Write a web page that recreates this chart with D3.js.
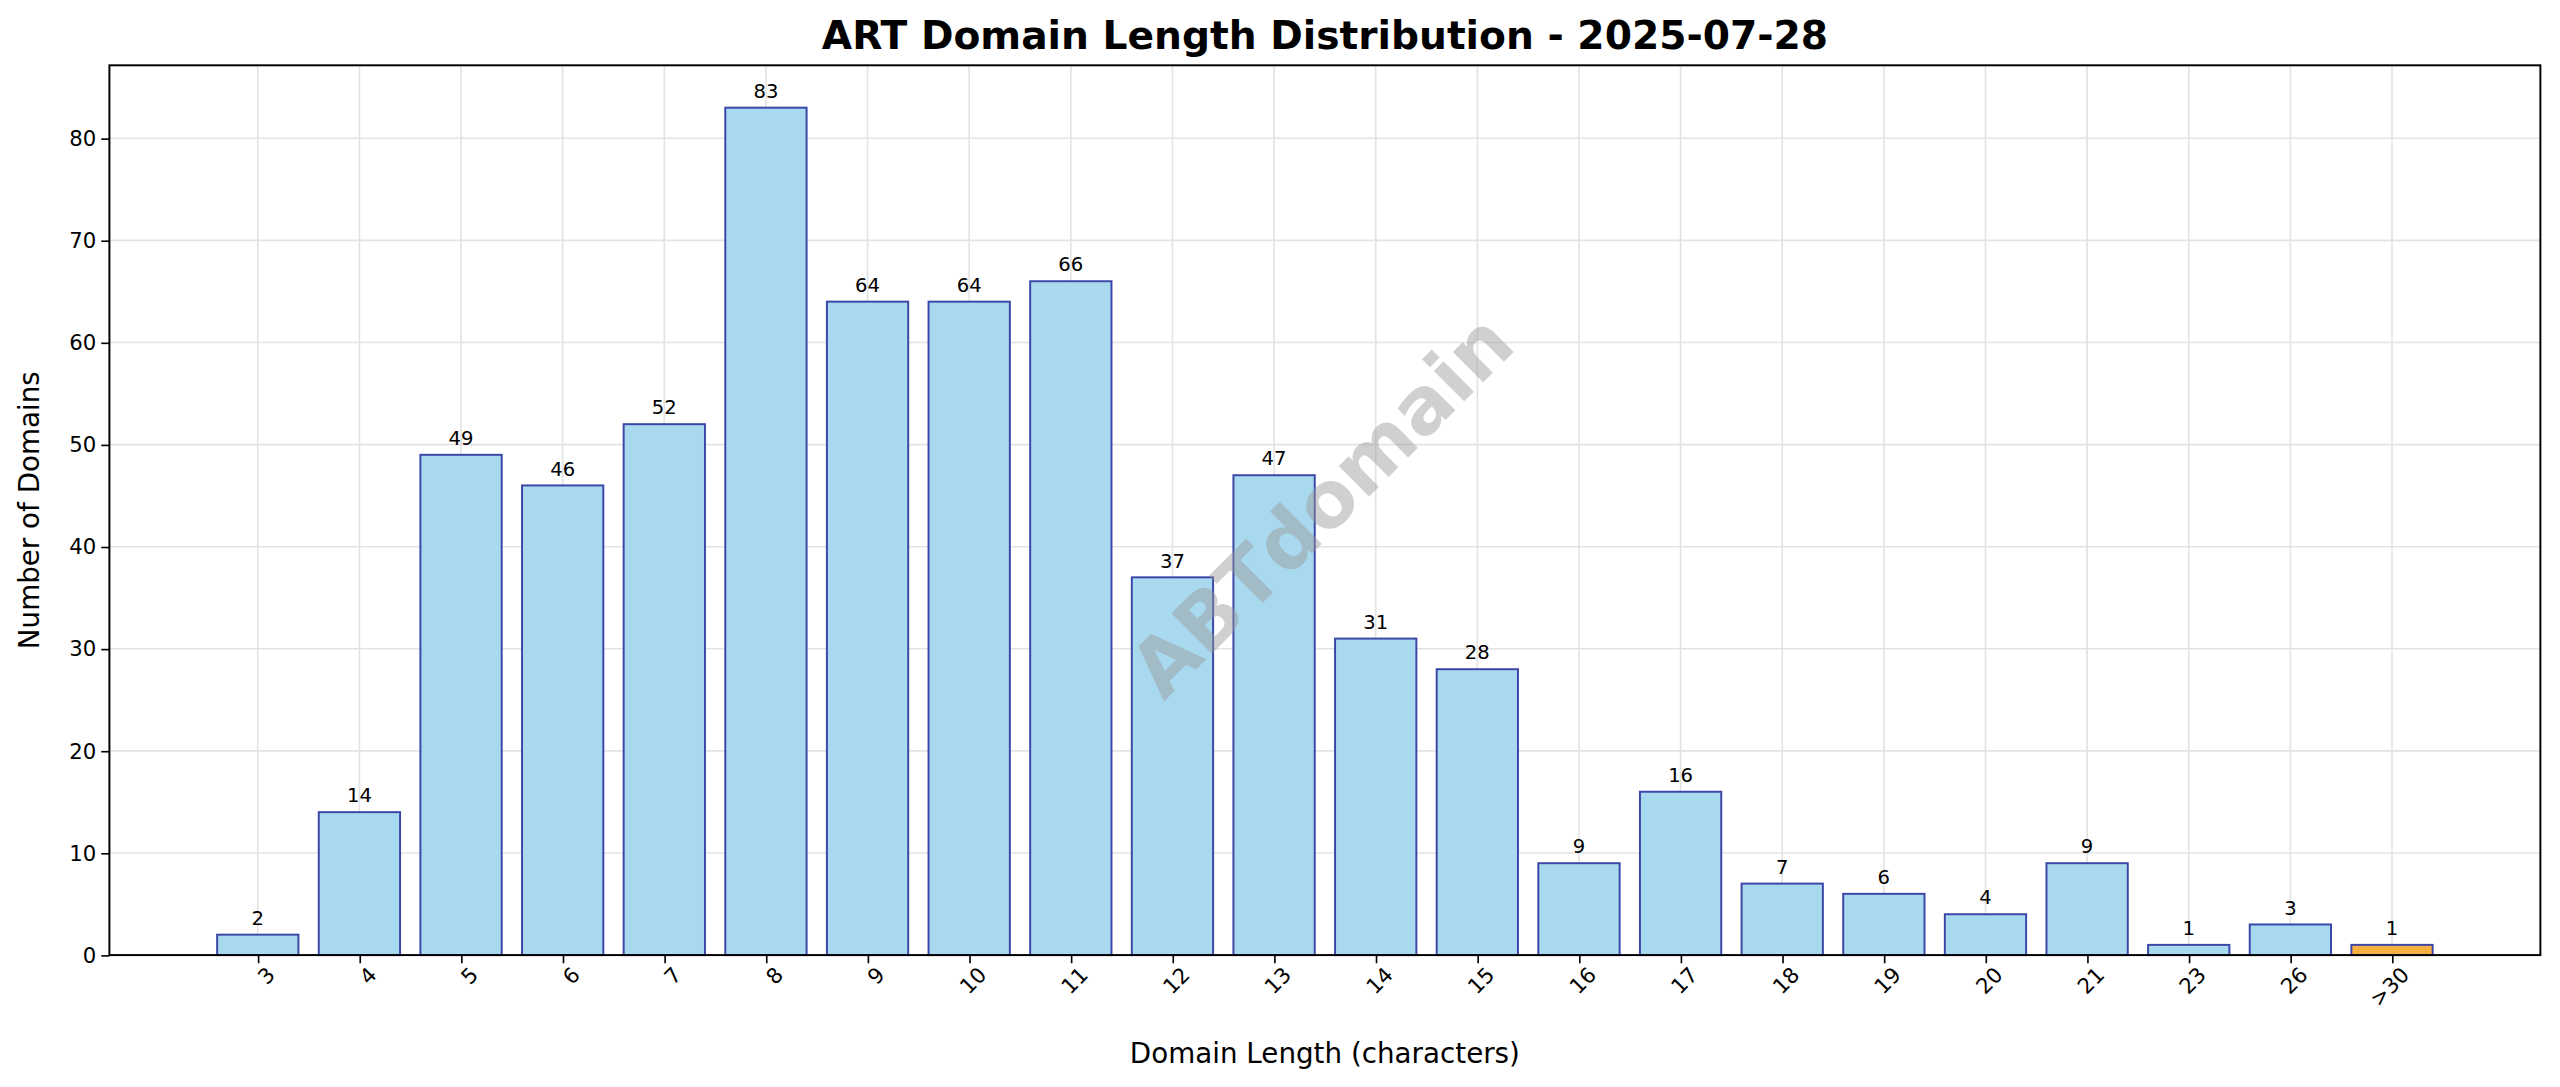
<!DOCTYPE html>
<html>
<head>
<meta charset="utf-8">
<script src="https://cdn.jsdelivr.net/npm/d3@7"></script>
<style>
body { margin: 0; background: #fff; overflow: hidden; }
text { font-family: "DejaVu Sans", sans-serif; }
</style>
</head>
<body>
<svg id="chart" width="2560" height="1087" viewBox="0 0 1568 665.8"></svg>
<script>
// chart data
var categories = ["3","4","5","6","7","8","9","10","11","12","13","14","15","16","17","18","19","20","21","23","26",">30"];
var counts = [2,14,49,46,52,83,64,64,66,37,47,31,28,9,16,7,6,4,9,1,3,1];
var yTicks = [0,10,20,30,40,50,60,70,80];

(function() {
var svg = d3.select("#chart"),
    plotL = 67, plotR = 1556, plotT = 40, plotB = 585;

var x = d3.scaleLinear().domain([-1.46, categories.length - 1 + 1.46]).range([plotL, plotR]);
var y = d3.scaleLinear().domain([0, 87.15]).range([plotB, plotT]);
var bw = x(0.8) - x(0);

/** grid */
svg.append("g").selectAll("line").data(categories).enter().append("line")
   .attr("x1", function(_, i) { return x(i); }).attr("x2", function(_, i) { return x(i); })
   .attr("y1", plotT).attr("y2", plotB).attr("stroke", "#e3e3e3").attr("stroke-width", 1);
svg.append("g").selectAll("line").data(yTicks).enter().append("line")
   .attr("x1", plotL).attr("x2", plotR).attr("y1", function(d) { return y(d); }).attr("y2", function(d) { return y(d); })
   .attr("stroke", "#e3e3e3").attr("stroke-width", 1);

/** bars */
svg.append("g").selectAll("rect").data(counts).enter().append("rect")
   .attr("x", function(_, i) { return x(i) - bw / 2; })
   .attr("y", function(d) { return y(d); })
   .attr("width", bw)
   .attr("height", function(d) { return plotB - y(d); })
   .attr("fill", function(_, i) { return categories[i] === ">30" ? "#f5b041" : "#a9d9ee"; })
   .attr("stroke", "#3a46a8").attr("stroke-width", 1.2);

/** value labels */
svg.append("g").selectAll("text").data(counts).enter().append("text")
   .attr("x", function(_, i) { return x(i); })
   .attr("y", function(d) { return y(d) - 6; })
   .attr("text-anchor", "middle").attr("font-size", 12).text(function(d) { return d; });

/** watermark */
svg.append("text").attr("transform", "translate(812,312) rotate(-45)")
   .attr("text-anchor", "middle").attr("dominant-baseline", "middle")
   .attr("font-size", 48).attr("font-weight", "bold").attr("fill", "#999").attr("opacity", 0.45)
   .text("ABTdomain");

/** axes */
svg.append("g").attr("transform", "translate(0," + plotB + ")")
   .call(d3.axisBottom(x).tickValues(d3.range(categories.length)).tickFormat(function(i) { return categories[i]; }).tickSize(5))
   .call(function(g) { g.select(".domain").remove(); })
   .selectAll("text").attr("font-size", 13).attr("text-anchor", "end")
   .attr("transform", "translate(2,4) rotate(-45)").attr("dy", "0.35em").attr("dx", "0");
svg.append("g").attr("transform", "translate(" + plotL + ",0)")
   .call(d3.axisLeft(y).tickValues(yTicks).tickSize(5))
   .call(function(g) { g.select(".domain").remove(); })
   .selectAll("text").attr("font-size", 13);
svg.selectAll(".tick line").attr("stroke", "#000");
svg.selectAll(".tick text").attr("fill", "#000");

svg.append("rect").attr("x", plotL).attr("y", plotT).attr("width", plotR - plotL).attr("height", plotB - plotT)
   .attr("fill", "none").attr("stroke", "#000").attr("stroke-width", 1.2);

/** titles */
svg.append("text").attr("x", (plotL + plotR) / 2).attr("y", 30).attr("text-anchor", "middle")
   .attr("font-size", 24).attr("font-weight", "bold").text("ART Domain Length Distribution - 2025-07-28");
svg.append("text").attr("x", (plotL + plotR) / 2).attr("y", 651).attr("text-anchor", "middle")
   .attr("font-size", 17).text("Domain Length (characters)");
svg.append("text").attr("transform", "translate(24," + (plotT + plotB) / 2 + ") rotate(-90)")
   .attr("text-anchor", "middle").attr("font-size", 17).text("Number of Domains");
})();
</script>
</body>
</html>
